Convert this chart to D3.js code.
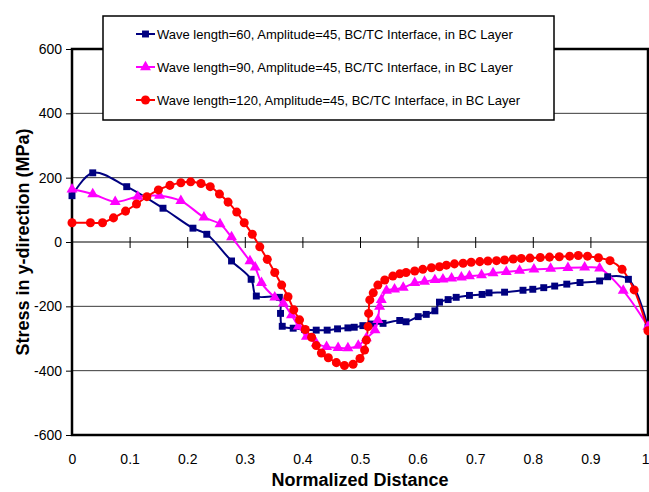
<!DOCTYPE html>
<html>
<head>
<meta charset="utf-8">
<script src="https://cdn.jsdelivr.net/npm/d3@7"></script>
<style>
  body { margin: 0; background: #fff; }
  svg { font-family: "Liberation Sans", Arial, sans-serif; }
</style>
</head>
<body>
<div id="chart"></div>
<script>
// series (x = normalized distance, y = stress MPa)
let wave60X = [0, 0.036, 0.095, 0.158, 0.21, 0.234, 0.277, 0.311, 0.32, 0.36, 0.362, 0.365, 0.384, 0.404, 0.424, 0.443, 0.461, 0.479, 0.49, 0.505, 0.52, 0.54, 0.569, 0.58, 0.601, 0.615, 0.63, 0.638, 0.653, 0.667, 0.69, 0.712, 0.724, 0.751, 0.783, 0.8, 0.819, 0.838, 0.859, 0.882, 0.916, 0.93, 0.966, 1.0];
let wave60Y = [144, 215, 172, 105, 43, 24, -59, -116, -168, -172, -222, -262, -268, -272, -274, -274, -270, -267, -265, -260, -255, -253, -244, -248, -232, -225, -214, -187, -179, -172, -166, -163, -158, -156, -150, -147, -142, -137, -131, -126, -121, -108, -116, -265];

let wave90X = [0, 0.036, 0.075, 0.114, 0.152, 0.189, 0.229, 0.257, 0.277, 0.309, 0.318, 0.329, 0.352, 0.367, 0.381, 0.393, 0.407, 0.424, 0.442, 0.462, 0.479, 0.497, 0.511, 0.526, 0.531, 0.534, 0.537, 0.546, 0.56, 0.575, 0.595, 0.612, 0.63, 0.644, 0.659, 0.676, 0.69, 0.711, 0.731, 0.754, 0.777, 0.802, 0.831, 0.861, 0.89, 0.916, 0.957, 1.0];
let wave90Y = [164, 149, 125, 141, 144, 128, 77, 56, 15, -59, -79, -127, -172, -191, -227, -262, -294, -315, -326, -329, -330, -322, -299, -274, -242, -201, -180, -151, -147, -142, -127, -123, -118, -116, -113, -110, -106, -103, -97, -93, -89, -85, -83, -80, -79, -82, -151, -263];

let wave120X = [0, 0.032, 0.053, 0.072, 0.093, 0.112, 0.13, 0.15, 0.17, 0.189, 0.206, 0.224, 0.24, 0.256, 0.271, 0.286, 0.299, 0.313, 0.326, 0.339, 0.352, 0.364, 0.375, 0.385, 0.395, 0.405, 0.416, 0.424, 0.433, 0.445, 0.459, 0.473, 0.488, 0.5, 0.508, 0.511, 0.514, 0.515, 0.517, 0.523, 0.531, 0.543, 0.557, 0.569, 0.58, 0.595, 0.609, 0.624, 0.638, 0.65, 0.664, 0.679, 0.693, 0.708, 0.722, 0.737, 0.751, 0.766, 0.78, 0.795, 0.813, 0.829, 0.846, 0.864, 0.879, 0.895, 0.914, 0.934, 0.955, 0.976, 1.0];
let wave120Y = [60, 60, 60, 75, 96, 118, 141, 162, 176, 184, 187, 182, 172, 149, 124, 93, 60, 24, -15, -54, -95, -134, -170, -211, -242, -272, -296, -322, -345, -360, -375, -384, -380, -362, -336, -305, -263, -222, -180, -158, -134, -118, -106, -99, -95, -90, -85, -80, -77, -72, -68, -66, -63, -61, -59, -58, -56, -53, -51, -50, -48, -47, -46, -44, -42, -44, -49, -58, -85, -149, -276];

let seriesNames = [
    "Wave length=60, Amplitude=45, BC/TC Interface, in BC Layer",
    "Wave length=90, Amplitude=45, BC/TC Interface, in BC Layer",
    "Wave length=120, Amplitude=45, BC/TC Interface, in BC Layer"
];
let xTicks = [0, 0.1, 0.2, 0.3, 0.4, 0.5, 0.6, 0.7, 0.8, 0.9, 1];
let yTicks = [-600, -400, -200, 0, 200, 400, 600];

let colors = ["#000080", "#ff00ff", "#ff0000"];
let markers = [d3.symbolSquare, d3.symbolTriangle, d3.symbolCircle];
let markerSizes = [48, 52, 64];

let series = [
    { name: seriesNames[0], xs: wave60X, ys: wave60Y },
    { name: seriesNames[1], xs: wave90X, ys: wave90Y },
    { name: seriesNames[2], xs: wave120X, ys: wave120Y }
];
series.forEach(function (s, i) {
    s.points = s.xs.map(function (x, j) { return { x: x, y: s.ys[j] }; });
    s.color = colors[i];
    s.marker = markers[i];
    s.size = markerSizes[i];
});

let W = 649, H = 492;
let plot = { left: 72, right: 648, top: 49, bottom: 435 };

let svg = d3.select('#chart')
    .append('svg')
        .attr('width', W)
        .attr('height', H);

let x = d3.scaleLinear().domain([0, 1]).range([plot.left, plot.right]);
let y = d3.scaleLinear().domain([-600, 600]).range([plot.bottom, plot.top]);

// grid lines
svg.append('g')
    .selectAll('line')
    .data(yTicks.filter(function (d) { return d !== 0 && d !== 600 && d !== -600; }))
    .enter().append('line')
        .attr('x1', plot.left).attr('x2', plot.right)
        .attr('y1', function (d) { return y(d); })
        .attr('y2', function (d) { return y(d); })
        .attr('stroke', '#3a3a3a')
        .attr('stroke-width', 1);

// zero line with cross ticks
svg.append('line')
    .attr('x1', plot.left).attr('x2', plot.right)
    .attr('y1', y(0)).attr('y2', y(0))
    .attr('stroke', '#000').attr('stroke-width', 1);

let crossTicks = svg.append('g')
    .attr('transform', 'translate(0,' + (y(0) - 5) + ')')
    .call(d3.axisBottom(x).tickValues(xTicks).tickSize(11).tickFormat(''));
crossTicks.select('.domain').remove();
crossTicks.selectAll('line').attr('stroke', '#000');

// y axis (hyphen minus like the original)
let yAxisGroup = svg.append('g')
    .attr('transform', 'translate(' + plot.left + ',0)')
    .call(d3.axisLeft(y).tickValues(yTicks).tickSize(6).tickPadding(4)
        .tickFormat(function (d) { return String(d); }));
yAxisGroup.select('.domain').remove();
yAxisGroup.selectAll('text')
    .attr('font-size', '14px')
    .attr('font-family', '"Liberation Sans", Arial, sans-serif')
    .attr('fill', '#000');
yAxisGroup.selectAll('line').attr('stroke', '#000');

// x labels along the bottom
let xAxisGroup = svg.append('g')
    .attr('transform', 'translate(0,' + plot.bottom + ')')
    .call(d3.axisBottom(x).tickValues(xTicks).tickSize(0).tickPadding(19)
        .tickFormat(function (d) { return d === 0 || d === 1 ? String(d) : d3.format('.1f')(d); }));
xAxisGroup.select('.domain').remove();
xAxisGroup.selectAll('text')
    .attr('font-size', '14px')
    .attr('font-family', '"Liberation Sans", Arial, sans-serif')
    .attr('fill', '#000');
// last label sits on the page edge; keep it inside
xAxisGroup.selectAll('text')
    .filter(function (d) { return d === 1; })
    .attr('text-anchor', 'end')
    .attr('x', 1);

// plot frame
svg.append('rect')
    .attr('x', plot.left).attr('y', plot.top)
    .attr('width', plot.right - plot.left)
    .attr('height', plot.bottom - plot.top)
    .attr('fill', 'none')
    .attr('stroke', '#000')
    .attr('stroke-width', 2.5);

// lines and markers
let line = d3.line()
    .x(function (d) { return x(d.x); })
    .y(function (d) { return y(d.y); })
    .curve(d3.curveCatmullRom.alpha(0.5));

series.forEach(function (s) {
    svg.append('path')
        .datum(s.points)
        .attr('fill', 'none')
        .attr('stroke', s.color)
        .attr('stroke-width', 2)
        .attr('d', line);
});

series.forEach(function (s) {
    svg.append('g')
        .selectAll('path')
        .data(s.points)
        .enter().append('path')
            .attr('transform', function (d) { return 'translate(' + x(d.x) + ',' + y(d.y) + ')'; })
            .attr('d', d3.symbol().type(s.marker).size(s.size))
            .attr('fill', s.color);
});

// legend
let legend = svg.append('g');
legend.append('rect')
    .attr('x', 103).attr('y', 16)
    .attr('width', 451).attr('height', 104)
    .attr('fill', '#fff')
    .attr('stroke', '#000')
    .attr('stroke-width', 1.5);

series.forEach(function (s, i) {
    let cy = 34 + i * 33;
    legend.append('line')
        .attr('x1', 136).attr('x2', 155)
        .attr('y1', cy).attr('y2', cy)
        .attr('stroke', s.color).attr('stroke-width', 2);
    legend.append('path')
        .attr('transform', 'translate(145.5,' + cy + ')')
        .attr('d', d3.symbol().type(s.marker).size(s.size))
        .attr('fill', s.color);
    legend.append('text')
        .attr('x', 157).attr('y', cy + 5)
        .attr('font-size', '13px')
        .text(s.name);
});

// axis titles
svg.append('text')
    .attr('x', 360).attr('y', 486)
    .attr('text-anchor', 'middle')
    .attr('font-size', '18px')
    .attr('font-weight', 'bold')
    .text('Normalized Distance');

svg.append('text')
    .attr('transform', 'translate(29,' + 242 + ') rotate(-90)')
    .attr('text-anchor', 'middle')
    .attr('font-size', '18px')
    .attr('font-weight', 'bold')
    .text('Stress in y-direction (MPa)');
</script>
</body>
</html>
